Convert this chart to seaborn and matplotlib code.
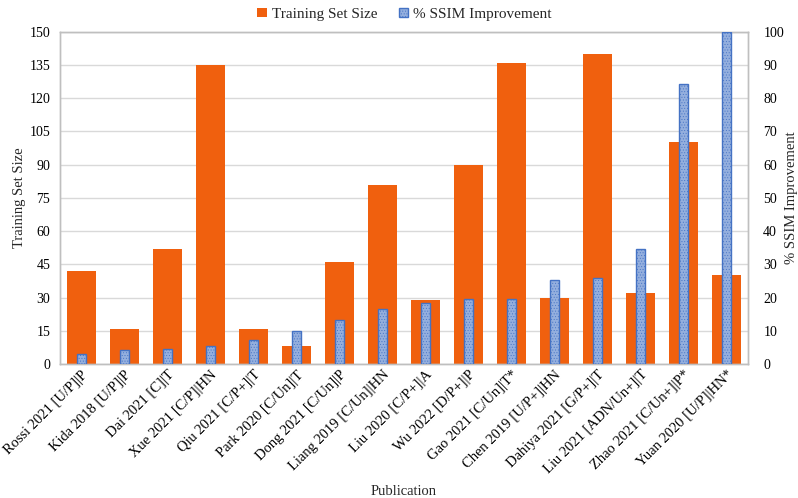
import matplotlib
matplotlib.use("Agg")
import matplotlib.pyplot as plt
import seaborn as sns
import pandas as pd
from matplotlib.patches import Patch

publications = ["Rossi 2021 [U/P]|P", "Kida 2018 [U/P]|P", "Dai 2021 [C]|T", "Xue 2021 [C/P]|HN",
                "Qiu 2021 [C/P+]|T", "Park 2020 [C/Un]|T", "Dong 2021 [C/Un]|P", "Liang 2019 [C/Un]|HN",
                "Liu 2020 [C/P+]|A", "Wu 2022 [D/P+]|P", "Gao 2021 [C/Un]|T*", "Chen 2019 [U/P+]|HN",
                "Dahiya 2021 [G/P+]|T", "Liu 2021 [ADN/Un+]|T", "Zhao 2021 [C/Un+]|P*", "Yuan 2020 [U/P]|HN*"]
training_size = [42, 16, 52, 135, 16, 8, 46, 81, 29, 90, 136, 30, 140, 32, 100, 40]
ssim_improvement = [3, 4.2, 4.5, 5.5, 7.1, 9.8, 13.3, 16.6, 18.3, 19.6, 19.6, 25.3, 26, 34.5, 84.2, 100]

df = pd.DataFrame({"Publication": publications, "Training": training_size, "SSIM": ssim_improvement})

sns.set_theme(style="white")
plt.rcParams["font.family"] = ["Liberation Serif", "DejaVu Serif"]
plt.rcParams["hatch.linewidth"] = 0.35

ORANGE = "#F0600E"
BLUE_FILL = "#94AFDE"
BLUE_EDGE = "#4472C4"

fig, ax = plt.subplots(figsize=(7.98, 4.98), dpi=100)
fig.subplots_adjust(left=0.0752, right=0.9373, top=0.9363, bottom=0.269)

sns.barplot(data=df, x="Publication", y="Training", color=ORANGE, width=0.68,
            saturation=1, ax=ax, zorder=2)
for p in ax.patches:
    p.set_edgecolor("none")

ax2 = ax.twinx()
sns.barplot(data=df, x="Publication", y="SSIM", color=BLUE_FILL, width=0.23,
            saturation=1, ax=ax2, zorder=3)
for p in ax2.patches:
    p.set_edgecolor(BLUE_EDGE)
    p.set_linewidth(1.0)
    p.set_hatch("......")

ax.set_ylim(0, 150)
ax.set_yticks(range(0, 151, 15))
ax2.set_ylim(0, 100)
ax2.set_yticks(range(0, 101, 10))
ax.set_xlim(-0.5, len(publications) - 0.5)

ax.yaxis.grid(True, color="#D9D9D9", linewidth=1.0, zorder=0)
ax.set_axisbelow(True)
ax2.grid(False)

for a in (ax, ax2):
    for s in a.spines.values():
        s.set_color("#BFBFBF")
        s.set_linewidth(1.0)
    a.tick_params(axis="both", length=0, labelsize=10, colors="black")

ax.tick_params(axis="y", pad=7)
ax2.tick_params(axis="y", pad=11)
ax.tick_params(axis="x", pad=3)
plt.setp(ax.get_xticklabels(), rotation=45, ha="right", rotation_mode="anchor", fontsize=10.5)

ax.set_xlabel("Publication", fontsize=10.5)
ax.xaxis.set_label_coords(0.5, -0.365)
ax.set_ylabel("Training Set Size", fontsize=10.5)
ax.yaxis.set_label_coords(-0.05, 0.5)
ax2.set_ylabel("% SSIM Improvement", fontsize=10.5)
ax2.yaxis.set_label_coords(1.054, 0.5)

handles = [Patch(facecolor=ORANGE, edgecolor="none", label="Training Set Size"),
           Patch(facecolor=BLUE_FILL, edgecolor=BLUE_EDGE, hatch="......", label="% SSIM Improvement")]
fig.legend(handles=handles, loc="upper center", bbox_to_anchor=(0.507, 1.012), ncol=2, frameon=False,
           fontsize=11, handlelength=0.6, handleheight=0.6, columnspacing=1.4, handletextpad=0.35)

fig.savefig("out.png", dpi=100)
